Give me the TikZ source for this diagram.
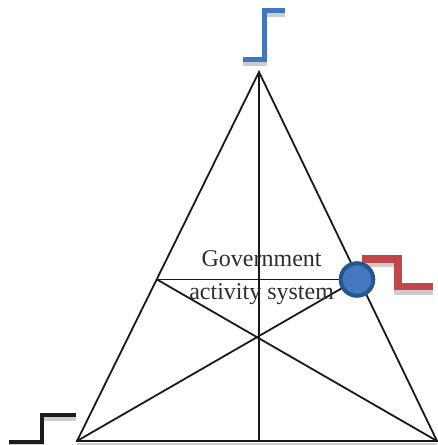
\documentclass[tikz,border=0pt]{standalone}
\usepackage{fontspec}
\setmainfont{Liberation Serif}
\definecolor{stepblue}{HTML}{3F78C1}
\definecolor{stepred}{HTML}{C1464A}
\definecolor{stepdark}{HTML}{1C1C1C}
\definecolor{stepshade}{HTML}{CDCDCD}
\definecolor{hubfill}{HTML}{4479C0}
\definecolor{hubrim}{HTML}{25578F}
\definecolor{labelgray}{HTML}{2E2E2E}
\begin{document}
\begin{tikzpicture}[x=1pt,y=-1pt,
  edge/.style={draw=black!90, line width=1.8pt},
  stepline/.style={line width=#1, line join=miter, line cap=butt},
  caption/.style={anchor=base, inner sep=0pt, text=labelgray,
    font=\fontsize{24}{30}\selectfont}]
\useasboundingbox (0,0) rectangle (438,445);

% triangle corners and the points the inner lines meet
\coordinate (apex) at (259,72);
\coordinate (bl) at (77,441);
\coordinate (br) at (437,441);
\coordinate (bm) at (259,441);
\coordinate (lm) at (157,279.5);
\coordinate (hubc) at (357,279.5);

% soft shade under the base
\draw[stepshade, line width=1.8pt] ([yshift=-2.8pt]bl) -- ([yshift=-2.8pt]br);

% outline and inner lines
\draw[edge, line join=miter] (apex) -- (bl) -- (br) -- cycle;
\draw[edge] (apex) -- (bm);
\draw[edge] (lm) -- (hubc);
\draw[edge] (lm) -- (br);
\draw[edge] (hubc) -- (bl);

% step signs: grey shade first, then the coloured line
\draw[stepshade, stepline=5pt] (243,63.7) -- (264.2,63.7) -- (264.2,14.8) -- (285,14.8);
\draw[stepblue, stepline=5pt] (243,59.7) -- (264.2,59.7) -- (264.2,10.8) -- (285,10.8);

\draw[stepshade, stepline=7.5pt] (362,263.5) -- (397.8,263.5) -- (397.8,291.2) -- (433,291.2);
\draw[stepred, stepline=7.5pt] (362,259) -- (397.8,259) -- (397.8,286.7) -- (433,286.7);

\draw[stepshade, stepline=4pt] (9,446.2) -- (42.2,446.2) -- (42.2,419) -- (76,419);
\draw[stepdark, stepline=4pt] (9,442.2) -- (42.2,442.2) -- (42.2,415) -- (76,415);

% hub on the right edge
\node[circle, inner sep=0pt, minimum size=32.6pt, line width=4pt,
      fill=hubfill, draw=hubrim] (hub) at (hubc) {};

% label
\node[caption] (gov1) at (261.6,266.7) {Government};
\node[caption] (gov2) at (261.6,299) {activity system};
\end{tikzpicture}
\end{document}
